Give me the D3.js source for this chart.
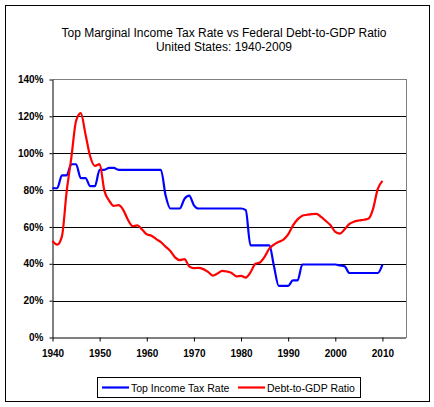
<!DOCTYPE html>
<html>
<head>
<meta charset="utf-8">
<script src="https://cdn.jsdelivr.net/npm/d3@7.8.5/dist/d3.min.js"></script>
<style>
  body { margin: 0; background: #fff; }
  svg text { font-family: Arial, "Liberation Sans", sans-serif; }
</style>
</head>
<body>
<div id="chart"></div>
<script>
// Years 1940-2010
const years = d3.range(1940, 2011);

// Top marginal income tax rate (%)
const taxRate = [
  81.1, 81, 88, 88, 94, 94, 86.45, 86.45, 82.13, 82.13,
  91, 91, 92, 92, 91, 91, 91, 91, 91, 91,
  91, 91, 91, 91, 77, 70, 70, 70, 75.25, 77,
  71.75, 70, 70, 70, 70, 70, 70, 70, 70, 70,
  70, 69.13, 50, 50, 50, 50, 50, 38.5, 28, 28,
  28, 31, 31, 39.6, 39.6, 39.6, 39.6, 39.6, 39.6, 39.6,
  39.6, 39.1, 38.6, 35, 35, 35, 35, 35, 35, 35,
  39.6
];

// Federal debt as % of GDP
const debtRatio = [
  52.4, 50.4, 54.9, 79.1, 97.6, 117.5, 121.7, 110.3, 98.2, 93.1,
  94.1, 79.7, 74.3, 71.4, 71.8, 69.3, 63.9, 60.4, 60.8, 58.6,
  56.0, 55.2, 53.4, 51.8, 49.3, 46.9, 43.5, 42.0, 42.5, 38.6,
  37.6, 37.8, 37.1, 35.6, 33.6, 34.7, 36.2, 35.8, 35.0, 33.2,
  33.4, 32.5, 35.3, 39.9, 40.7, 43.8, 48.2, 50.4, 51.9, 53.1,
  55.9, 60.7, 64.1, 66.1, 66.6, 67.0, 67.1, 65.4, 63.2, 60.9,
  57.3, 56.4, 58.8, 61.6, 62.9, 63.5, 63.9, 64.4, 69.7, 80.5,
  85
];

const xTicks = [1940, 1950, 1960, 1970, 1980, 1990, 2000, 2010];
const yTicks = [0, 20, 40, 60, 80, 100, 120, 140];
const titleLines = ["Top Marginal Income Tax Rate vs Federal Debt-to-GDP Ratio", "United States: 1940-2009"];
const seriesNames = ["Top Income Tax Rate", "Debt-to-GDP Ratio"];
const seriesColors = ["#0000ff", "#ff0000"];

const width = 434, height = 407;
const plot = { left: 52.5, right: 406, top: 79.5, bottom: 337.5 };

const svg = d3.select('#chart').append('svg')
  .attr('width', width)
  .attr('height', height);

// outer frame
svg.append('rect')
  .attr('x', 5.5).attr('y', 5.5)
  .attr('width', 424).attr('height', 396)
  .attr('fill', '#fff')
  .attr('stroke', '#000')
  .attr('stroke-width', 1);

// title
svg.append('g').selectAll('text')
  .data(titleLines)
  .join('text')
  .attr('x', 224)
  .attr('y', (d, i) => 37 + i * 14)
  .attr('text-anchor', 'middle')
  .attr('font-size', 12)
  .text(d => d);

const x = d3.scaleLinear().domain([1940, 2015]).range([plot.left, plot.right]);
const y = d3.scaleLinear().domain([0, 140]).range([plot.bottom, plot.top]);

// plot area border (gray top/right)
svg.append('path')
  .attr('d', `M${plot.left},${plot.top}H${plot.right}V${plot.bottom}`)
  .attr('fill', 'none')
  .attr('stroke', '#808080')
  .attr('stroke-width', 1)
  .attr('shape-rendering', 'crispEdges');

// gridlines
svg.append('g')
  .selectAll('line')
  .data(yTicks.filter(d => d > 0 && d < 140))
  .join('line')
  .attr('x1', plot.left).attr('x2', plot.right)
  .attr('y1', d => Math.round(y(d)) + 0.5)
  .attr('y2', d => Math.round(y(d)) + 0.5)
  .attr('stroke', '#000')
  .attr('shape-rendering', 'crispEdges');

// y axis
const yAxis = svg.append('g')
  .attr('transform', `translate(${plot.left},0)`)
  .call(d3.axisLeft(y).tickValues(yTicks).tickSize(3).tickPadding(6).tickFormat(d => d + '%'));
yAxis.selectAll('text').attr('font-size', 10).attr('font-weight', 'bold').attr('fill', '#000');

// x axis
const xAxis = svg.append('g')
  .attr('transform', `translate(0,${plot.bottom})`)
  .call(d3.axisBottom(x).tickValues(xTicks).tickSize(4).tickPadding(8).tickFormat(d3.format('d')).tickSizeOuter(0));
xAxis.selectAll('text').attr('font-size', 10).attr('font-weight', 'bold').attr('fill', '#000');
svg.selectAll('.domain').attr('stroke', '#000');
xAxis.select('.domain').attr('d', `M${plot.left},0.5H${plot.right}`);
yAxis.select('.domain').attr('d', `M0.5,${plot.top}V${plot.bottom}`);

// lines
const line = d3.line()
  .x(d => x(d[0]))
  .y(d => y(d[1]))
  .curve(d3.curveMonotoneX);

[taxRate, debtRatio].forEach((vals, i) => {
  svg.append('path')
    .datum(years.map((yr, j) => [yr, vals[j]]))
    .attr('fill', 'none')
    .attr('stroke', seriesColors[i])
    .attr('stroke-width', 2.2)
    .attr('stroke-linejoin', 'round')
    .attr('d', line);
});

// legend
const legend = svg.append('g');
legend.append('rect')
  .attr('x', 97.5).attr('y', 377.5)
  .attr('width', 263).attr('height', 20)
  .attr('fill', '#fff')
  .attr('stroke', '#000');

const legendX = [102, 238];
seriesNames.forEach((name, i) => {
  legend.append('line')
    .attr('x1', legendX[i]).attr('x2', legendX[i] + 27)
    .attr('y1', 387.5).attr('y2', 387.5)
    .attr('stroke', seriesColors[i])
    .attr('stroke-width', 2.2);
  legend.append('text')
    .attr('x', legendX[i] + 29)
    .attr('y', 391.5)
    .attr('font-size', 10.5)
    .text(name);
});
</script>
</body>
</html>
